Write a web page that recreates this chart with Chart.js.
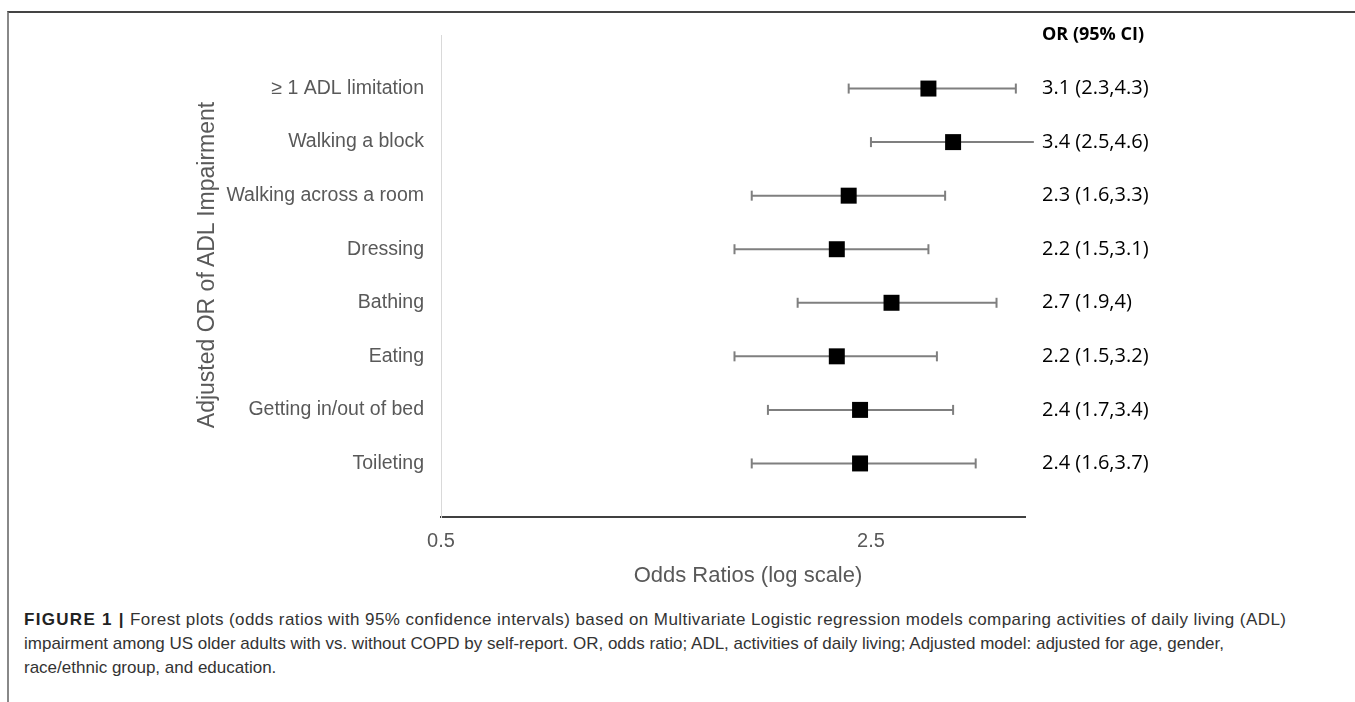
<!DOCTYPE html>
<html><head><meta charset="utf-8">
<script src="https://cdn.jsdelivr.net/npm/chart.js@4.4.1/dist/chart.umd.min.js"></script>
<style>
html,body{margin:0;padding:0;background:#fff;width:1355px;height:702px;overflow:hidden;}
#frame{position:absolute;left:7px;top:11px;width:1400px;height:720px;border-top:2px solid #444;border-left:2px solid #888;}
#wrap{position:absolute;left:0;top:0;width:1355px;height:600px;}
#xtitle{position:absolute;left:548px;width:400px;top:561px;text-align:center;font-family:"Liberation Sans",Arial,sans-serif;font-size:22px;line-height:28px;color:#595959;white-space:nowrap;}
#ytitle{position:absolute;left:6px;top:251px;width:400px;height:28px;text-align:center;font-family:"Liberation Sans",Arial,sans-serif;font-size:23px;line-height:28px;color:#595959;white-space:nowrap;transform:rotate(-90deg);transform-origin:200px 14px;}
#cap{position:absolute;left:24px;top:608px;font-family:"Liberation Sans",Arial,sans-serif;font-size:17px;line-height:24px;color:#333;white-space:nowrap;}
#cap .l1{letter-spacing:0.42px;}
#cap b{color:#222;letter-spacing:1.3px;}
</style></head><body>
<div id="frame"></div>
<div id="wrap"><canvas id="c" width="1355" height="600"></canvas></div>
<div id="xtitle">Odds Ratios (log scale)</div>
<div id="ytitle">Adjusted OR of ADL Impairment</div>
<div id="cap"><span class="l1"><b>FIGURE 1 |</b> Forest plots (odds ratios with 95% confidence intervals) based on Multivariate Logistic regression models comparing activities of daily living (ADL)</span><br>impairment among US older adults with vs. without COPD by self-report. OR, odds ratio; ADL, activities of daily living; Adjusted model: adjusted for age, gender,<br>race/ethnic group, and education.</div>
<script>
const categories = ['≥ 1 ADL limitation','Walking a block','Walking across a room','Dressing','Bathing','Eating','Getting in/out of bed','Toileting'];
const oddsRatios = [3.1, 3.4, 2.3, 2.2, 2.7, 2.2, 2.4, 2.4];
const ciLower   = [2.3, 2.5, 1.6, 1.5, 1.9, 1.5, 1.7, 1.6];
const ciUpper   = [4.3, 4.6, 3.3, 3.1, 4.0, 3.2, 3.4, 3.7];
const xTicks = [0.5, 2.5];
const orHeader = 'OR (95% CI)';

const orLabels = oddsRatios.map((v,i) => `${v} (${ciLower[i]},${ciUpper[i]})`);
const FAM = '"Liberation Sans", Arial, sans-serif';
Chart.defaults.font.family = FAM;

const datasets = [{
  label: 'OR',
  data: oddsRatios.map((v,i) => ({x:v, y:i+1})),
  pointStyle: 'rect',
  pointRadius: 11.3,
  pointBackgroundColor: '#000',
  pointBorderColor: '#000',
  pointBorderWidth: 0,
  showLine: false,
  clip: false
}];
categories.forEach((c,i) => {
  datasets.push({
    label: c,
    data: [{x:ciLower[i], y:i+1},{x:ciUpper[i], y:i+1}],
    showLine: true,
    borderColor: '#7f7f7f',
    borderWidth: 2,
    pointStyle: 'line',
    rotation: 90,
    pointRadius: 5,
    pointBorderColor: '#7f7f7f',
    pointBorderWidth: 2,
    clip: false
  });
});

new Chart(document.getElementById('c'), {
  type: 'scatter',
  data: { datasets },
  options: {
    responsive: false,
    animation: false,
    devicePixelRatio: 1,
    layout: { padding: { top: 35, left: 0, right: 0, bottom: 0 } },
    plugins: { legend: {display:false}, tooltip: {enabled:false} },
    scales: {
      x: {
        type: 'logarithmic', min: 0.5, max: 4.45,
        grid: { display:false, drawTicks:false },
        border: { display:true, color:'#404040', width:2 },
        afterBuildTicks: s => { s.ticks = xTicks.map(v => ({value:v})); },
        ticks: { color:'#595959', font:{size:20}, padding:12, autoSkip:false, maxRotation:0, callback: v => String(v) },
        title: { display:false },
        afterFit: s => { s.height = 83; }
      },
      y: {
        type: 'linear', min:0, max:9, reverse:true, position:'left',
        grid: { display:false, drawTicks:false },
        border: { display:true, color:'#d9d9d9', width:1 },
        ticks: { stepSize:1, autoSkip:false, color:'#595959', font:{size:19.5}, padding:17, callback: v => categories[v-1] || '' },
        title: { display:false },
        afterFit: s => { s.width = 441; }
      },
      y2: {
        type: 'linear', min:0, max:9, reverse:true, position:'right',
        grid: { display:false, drawTicks:false },
        border: { display:false },
        ticks: { stepSize:1, autoSkip:false, color:'#000',
          font: ctx => (ctx.tick && ctx.tick.value === 0)
            ? { family:'"Open Sans", sans-serif', size:18, weight:'bold' }
            : { family:'"Open Sans", sans-serif', size:20, weight:'normal' },
          padding:17,
          callback: v => v === 0 ? orHeader : (orLabels[v-1] || '') },
        afterFit: s => { s.width = 330; }
      }
    }
  }
});
</script>
</body></html>
